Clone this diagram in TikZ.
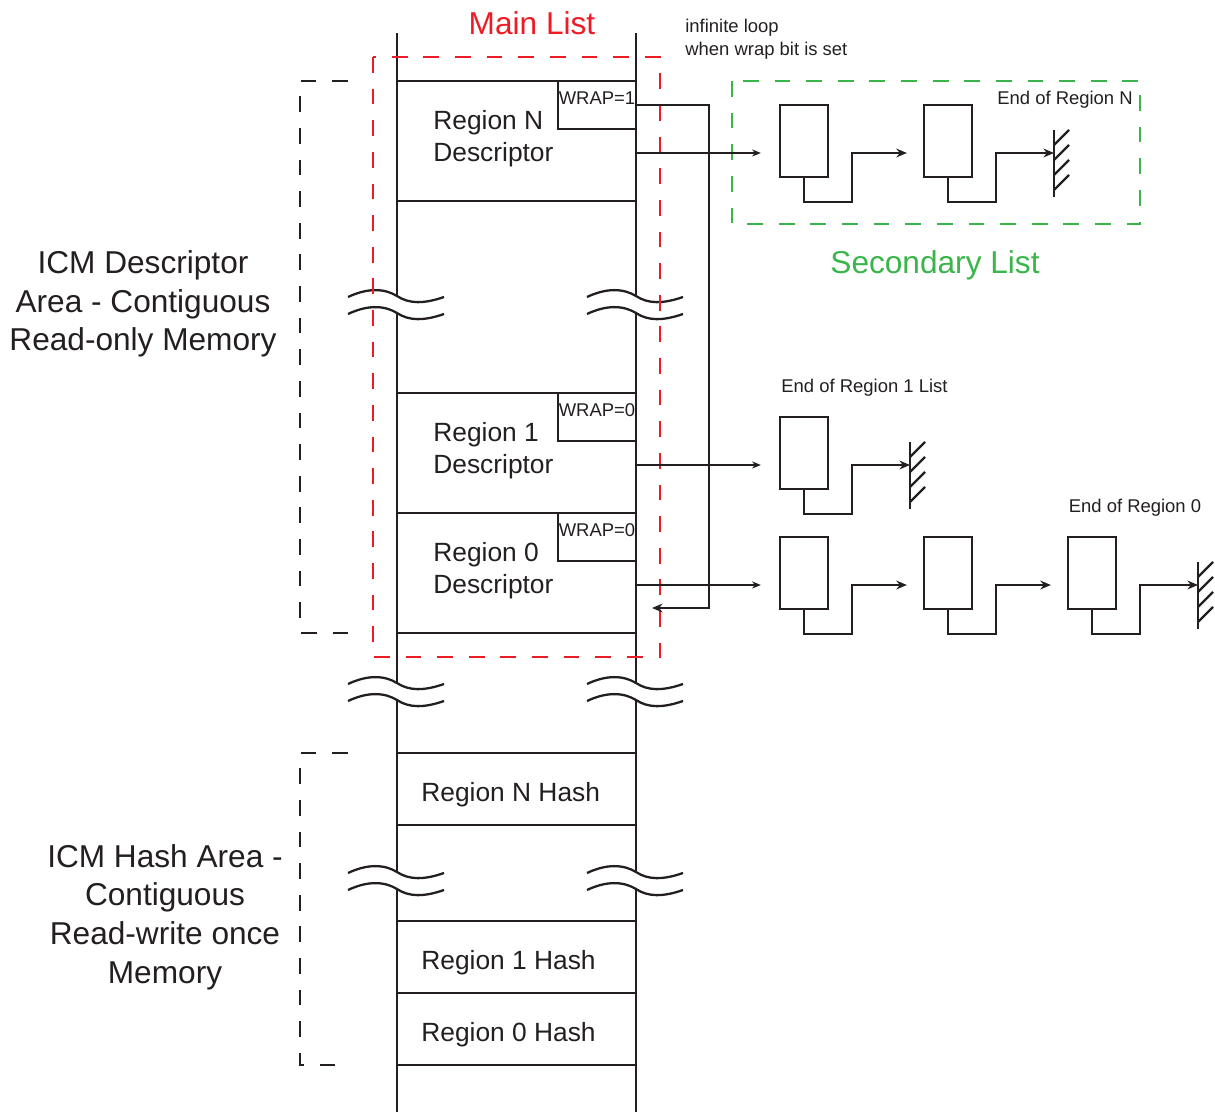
\documentclass[tikz,border=0pt]{standalone}
\usepackage{fontspec}
\setmainfont{Liberation Sans}
\usepackage{tikz}
\usetikzlibrary{arrows.meta, positioning, calc}
\definecolor{cInk}{RGB}{35,31,32}
\definecolor{cRed}{RGB}{237,28,36}
\definecolor{cGreen}{RGB}{57,181,74}
\tikzset{
    slot/.style     ={rectangle, draw=cInk, line width=1.4pt, minimum width=4.78cm, inner sep=0pt},
    wrapbox/.style  ={rectangle, draw=cInk, line width=0.8pt, minimum width=1.56cm, minimum height=0.96cm, inner sep=0.5pt, text depth=8pt, font=\fontsize{10.5}{12}\selectfont},
    elem/.style     ={rectangle, draw=cInk, line width=1.3pt, minimum width=0.96cm, minimum height=1.44cm, inner sep=0pt},
    collabel/.style ={anchor=west, align=left, inner sep=0pt, font=\fontsize{15}{18.2}\selectfont},
    arealabel/.style={align=center, inner sep=0pt, font=\fontsize{18}{22}\selectfont},
    note/.style     ={inner sep=0pt, font=\fontsize{10.5}{13}\selectfont},
    pointer/.style  ={-{Stealth[length=5pt, width=4pt]}, line width=0.75pt, draw=cInk},
    link/.style     ={-{Stealth[length=6pt, width=5pt]}, line width=1.3pt, draw=cInk},
    areabox/.style  ={draw=cInk, line width=1.2pt, dash pattern=on 9pt off 9pt},
    listbox/.style  ={line width=1.3pt, dash pattern=on 9pt off 9pt},
    brk/.pic={
        \foreach \d in {0,17}
            \draw[cInk, line width=1.3pt] (-49,1+\d) .. controls (-30,-8+\d) and (-13,-8+\d) .. (0,\d) .. controls (12,8+\d) and (27,8+\d) .. (47,1+\d);
    },
    ground/.pic={
        \draw[cInk, line width=1.3pt] (0,-23) -- (0,44);
        \foreach \k in {0,...,3}
            \draw[cInk, line width=1.3pt] (0,-8+15*\k) -- ++(15,-15);
    },
}

\begin{document}
\begin{tikzpicture}[x=0.02cm, y=-0.02cm, every node/.style={text=cInk}]
    \useasboundingbox (0,0) rectangle (1215,1112);
    % memory column
    \foreach \x in {397,636}
        \draw[cInk, line width=1.4pt] (\x,33) -- (\x,296) (\x,313) -- (\x,683) (\x,700) -- (\x,872) (\x,889) -- (\x,1112);
    \foreach \x in {397,636}
        \foreach \y in {296,683,872}
            \pic at (\x,\y) {brk};

    % descriptor slots
    \node[slot, minimum height=2.4cm] (sN) at (516.5,141) {};
    \node[slot, minimum height=2.4cm] (s1) at (516.5,453) {};
    \node[slot, minimum height=2.4cm] (s0) at (516.5,573) {};
    \node[collabel] (tN) at (433,139) {Region N\\Descriptor};
    \node[collabel] (t1) at (433,451) {Region 1\\Descriptor};
    \node[collabel] (t0) at (433,571) {Region 0\\Descriptor};
    \node[wrapbox] (wN) at (597,105) {WRAP=1};
    \node[wrapbox] (w1) at (597,417) {WRAP=0};
    \node[wrapbox] (w0) at (597,537) {WRAP=0};

    % hash slots
    \node[slot, minimum height=1.44cm] (hN) at (516.5,789) {};
    \node[slot, minimum height=1.44cm] (h1) at (516.5,957) {};
    \node[slot, minimum height=1.44cm] (h0) at (516.5,1029) {};
    \node[collabel] (thN) at (421,795) {Region N Hash};
    \node[collabel] (th1) at (421,963) {Region 1 Hash};
    \node[collabel] (th0) at (421,1035) {Region 0 Hash};

    % area brackets
    \draw[areabox] (348,81) -- (300,81) -- (300,633) -- (348,633);
    \draw[areabox] (348,753) -- (300,753) -- (300,1065) -- (348,1065);
    \node[arealabel] (desclbl) at (143,304) {ICM Descriptor\\Area - Contiguous\\Read-only Memory};
    \node[arealabel] (hashlbl) at (165,917) {ICM Hash Area -\\Contiguous\\Read-write once\\Memory};

    % main and secondary list frames
    \draw[listbox, cRed] (373,57) rectangle (660,657);
    \draw[listbox, cGreen] (732,81) rectangle (1140,224);
    \node[arealabel, text=cRed] (mainlbl) at (532,23) {Main List};
    \node[arealabel, text=cGreen] (seclbl) at (935,265) {Secondary List};

    % region N list
    \node[elem] (eN1) at (804,141) {};
    \node[elem] (eN2) at (948,141) {};
    \coordinate (gN) at (1054,153);
    \pic at (gN) {ground};
    \draw[pointer, shorten >=0.36cm] ([yshift=-0.24cm]sN.east) -- ([yshift=-0.24cm]eN1.west);
    \draw[link, shorten >=0.32cm] (eN1.south) |- ++(48,24) |- ([yshift=-0.24cm]eN2.west);
    \draw[link] (eN2.south) |- ++(48,24) |- (gN);
    \node[note] (endN) at (1065,100) {End of Region N};

    % region 1 list
    \node[elem] (e11) at (804,453) {};
    \coordinate (g1) at (910,465);
    \pic at (g1) {ground};
    \draw[pointer, shorten >=0.36cm] ([yshift=-0.24cm]s1.east) -- ([yshift=-0.24cm]e11.west);
    \draw[link] (e11.south) |- ++(48,24) |- (g1);
    \node[note] (end1) at (864.5,388) {End of Region 1 List};

    % region 0 list
    \foreach \n/\x in {1/804, 2/948, 3/1092}
        \node[elem] (e0\n) at (\x,573) {};
    \coordinate (g0) at (1198,585);
    \pic at (g0) {ground};
    \draw[pointer, shorten >=0.36cm] ([yshift=-0.24cm]s0.east) -- ([yshift=-0.24cm]e01.west);
    \draw[link, shorten >=0.32cm] (e01.south) |- ++(48,24) |- ([yshift=-0.24cm]e02.west);
    \draw[link, shorten >=0.32cm] (e02.south) |- ++(48,24) |- ([yshift=-0.24cm]e03.west);
    \draw[link] (e03.south) |- ++(48,24) |- (g0);
    \node[note] (end0) at (1135,508) {End of Region 0};

    % wrap loop
    \coordinate (loopN) at (652,608);
    \draw[link] (wN.east) -- ++(72,0) |- (loopN);
    \node[note, anchor=west, align=left] (loopnote) at (685,39.5) {infinite loop\\when wrap bit is set};
\end{tikzpicture}
\end{document}
